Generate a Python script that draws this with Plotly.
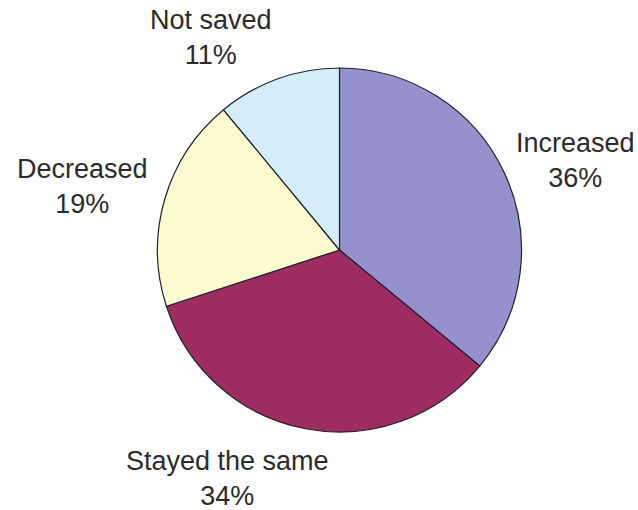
import plotly.graph_objects as go

labels = ["Increased", "Stayed the same", "Decreased", "Not saved"]
values = [36, 34, 19, 11]
colors = ["#9491cc", "#9e2b62", "#fbfbcf", "#d3eef8"]

# label block centres in pixels (x, y from top)
label_px = [(575, 160), (228, 478), (82, 186), (211, 38)]

W, H = 638, 510
cx, cy, r = 339.5, 250, 182

fig = go.Figure(go.Pie(
    labels=labels, values=values, sort=False, direction="clockwise",
    rotation=0, marker=dict(colors=colors, line=dict(color="#222233", width=1.2)),
    textinfo="none", hoverinfo="label+percent", showlegend=False,
    domain=dict(x=[(cx - r) / W, (cx + r) / W], y=[(H - cy - r) / H, (H - cy + r) / H]),
))

for lab, val, (px, py) in zip(labels, values, label_px):
    fig.add_annotation(
        x=px / W, y=1 - py / H, xref="paper", yref="paper",
        text=f"{lab}<br>{val}%", showarrow=False, xanchor="center", yanchor="middle",
        font=dict(family="Liberation Sans, Arial", size=27, color="#2b2b2b"),
    )

fig.update_layout(
    width=W, height=H, margin=dict(l=0, r=0, t=0, b=0),
    paper_bgcolor="white", plot_bgcolor="white",
)
fig.write_html("out.html")
